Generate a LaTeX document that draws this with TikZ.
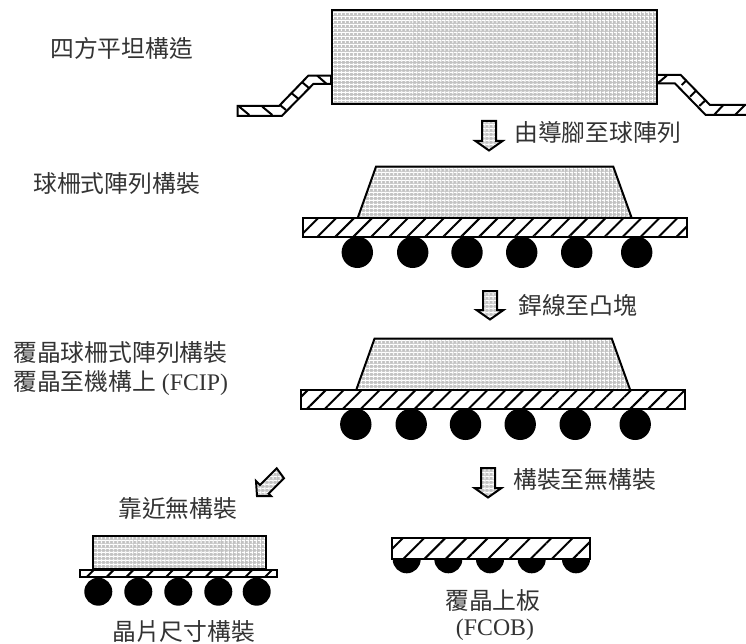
\documentclass[tikz,border=0pt]{standalone}
\usepackage{fontspec}
\setmainfont{Liberation Serif}
\newfontfamily\cjk{Noto Sans CJK TC}
\usetikzlibrary{patterns.meta}
\tikzset{
  outl/.style={draw=black,line width=2pt,line join=miter},
  dotfill/.style={fill=black!24,
    postaction={pattern={Lines[angle=0,distance=4pt,line width=1.1pt]},pattern color=white},
    postaction={pattern={Lines[angle=90,distance=4pt,line width=1.1pt]},pattern color=white},
    postaction={draw=black,line width=2pt,line join=miter}},
  hatchfill/.style={fill=white,postaction={pattern={Lines[angle=45,distance=#1,line width=2pt]},pattern color=black},postaction={draw=black,line width=2pt}},
  hatchfill/.default=12.7pt,
  stripe/.style={draw=black,line width=2pt},
  ballf/.style={fill=black},
  lab/.style={font=\fontsize{23.8}{28}\selectfont,text=black!80,inner sep=0pt,anchor=west}
}
\newcommand{\downarrowblock}[3]{% centre x, top y, bottom y
  \path[dotfill] (#1-7,#2+1) -- (#1+7,#2+1) -- (#1+7,#3-11) -- (#1+13.5,#3-11) -- (#1,#3-1.5) -- (#1-13.5,#3-11) -- (#1-7,#3-11) -- cycle;
}
\newcommand{\bgablock}[1]{% shift
  \begin{scope}[shift={#1}]
    \path[dotfill] (357.7,218) -- (376,166.7) -- (613.3,166.7) -- (631.7,218) -- cycle;
    \foreach \bx in {357.3,412.7,467,521.7,576.7,636.7} \fill[ballf] (\bx,252.3) circle[radius=15.7];
    \path[hatchfill] (302.7,218.3) rectangle (686.7,237.3);
  \end{scope}
}
\begin{document}
\begin{tikzpicture}[x=1pt,y=-1pt]
\useasboundingbox (0,0) rectangle (746,644);
% QFP leads
\path[outl,fill=white] (331,75.7) -- (308.3,75.7) -- (279,106) -- (237.7,106) -- (237.7,116) -- (281.7,116) -- (313.3,84) -- (331,84) -- cycle;
\draw[stripe] (239.3,106.7)--(249.3,115) (262.3,106.7)--(272.3,115) (280,105)--(286,110) (291.7,93.3)--(299,99.3) (302.7,82.7)--(309.3,88.3) (317.3,75.7)--(326.7,84);
\path[outl] (656.8,75) -- (680.7,75) -- (710,105) -- (750,105);
\path[outl] (656.8,83.5) -- (675,83.5) -- (705.7,115) -- (750,115);
\draw[stripe] (658.3,82.7)--(666.7,75.7) (681.7,85)--(686.7,80) (690,96.7)--(696,90.7) (699.3,106)--(705,100.7) (714,115)--(723.3,105) (735,115)--(745,105);
\path[dotfill] (331.7,10.4) rectangle (657,103.7);
% BGA and FC-BGA
\bgablock{(0,0)}
\bgablock{(-1.5,172)}
% chip scale package
\foreach \bx in {98.3,138.3,178.3,218.3,256.7} \fill[ballf] (\bx,591.7) circle[radius=14];
\path[hatchfill=14pt] (80,570) rectangle (276.7,577.3);
\path[dotfill] (92.7,536) rectangle (265.7,569.3);
% FCOB
\foreach \bx in {406.7,448.3,490,531.7,576} \fill[ballf] (\bx-14,559.3) arc[start angle=180,end angle=0,radius=14] -- cycle;
\path[hatchfill=15pt] (392.3,537.7) rectangle (590,559.3);
% block arrows
\downarrowblock{489}{120}{152}
\downarrowblock{490}{290}{321}
\downarrowblock{488}{467}{499}
\path[dotfill] (257,496) -- (256,481) -- (260,485) -- (276.7,468.3) -- (284,478.3) -- (268.65,493.65) -- (271,496) -- cycle;
% labels
\node[lab] (t1) at (50,48) {\cjk 四方平坦構造};
\node[lab] (t2) at (33,184) {\cjk 球柵式陣列構裝};
\node[lab] (t3) at (13,353) {\cjk 覆晶球柵式陣列構裝};
\node[lab] (t4) at (13,383) {{\cjk 覆晶至機構上} (FCIP)};
\node[lab] (t5) at (514,132) {\cjk 由導腳至球陣列};
\node[lab] (t6) at (518,305) {\cjk 銲線至凸塊};
\node[lab] (t7) at (513,479) {\cjk 構裝至無構裝};
\node[lab] (t8) at (118,508) {\cjk 靠近無構裝};
\node[lab] (t9) at (112,631.5) {\cjk 晶片尺寸構裝};
\node[lab] (t10) at (445,600) {\cjk 覆晶上板};
\node[lab,anchor=center] (t11) at (495,630) {(FCOB)};
\end{tikzpicture}
\end{document}
